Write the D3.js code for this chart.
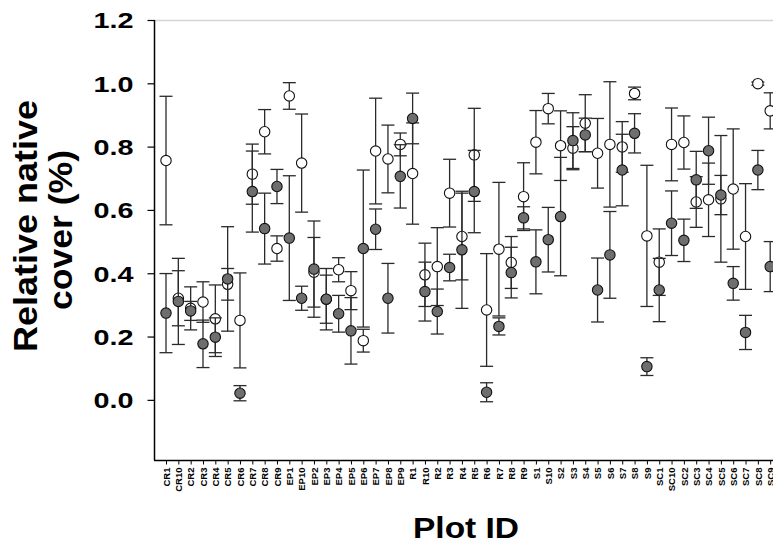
<!DOCTYPE html>
<html>
<head>
<meta charset="utf-8">
<script src="https://cdn.jsdelivr.net/npm/d3@7"></script>
<style>
  body { margin: 0; background: #fff; overflow: hidden; }
  text { font-family: "Liberation Sans", Arial, sans-serif; font-weight: bold; }
</style>
</head>
<body>
<svg id="chart" width="773" height="543"></svg>
<script>
// plot ids along the x axis
const plots = [
  "CR1","CR10","CR2","CR3","CR4","CR5","CR6","CR7","CR8","CR9",
  "EP1","EP10","EP2","EP3","EP4","EP5","EP6","EP7","EP8","EP9",
  "R1","R10","R2","R3","R4","R5","R6","R7","R8","R9",
  "S1","S10","S2","S3","S4","S5","S6","S7","S8","S9",
  "SC1","SC10","SC2","SC3","SC4","SC5","SC6","SC7","SC8","SC9"
];

// open circles: mean and error
const openMean = [
  0.756,0.321,0.289,0.309,0.256,0.365,0.251,0.713,0.847,0.478,
  0.960,0.748,0.403,0.318,0.411,0.345,0.187,0.786,0.761,0.807,
  0.715,0.395,0.421,0.653,0.516,0.774,0.284,0.476,0.434,0.642,
  0.814,0.920,0.803,0.795,0.874,0.779,0.807,0.799,0.968,0.518,
  0.435,0.807,0.813,0.625,0.632,0.635,0.666,0.516,0.999,0.913
];
const openErr = [
  0.203,0.087,0.068,0.064,0.107,0.050,0.150,0.095,0.070,0.040,
  0.042,0.155,0.110,0.097,0.038,0.060,0.036,0.167,0.107,0.036,
  0.160,0.100,0.123,0.107,0.137,0.147,0.178,0.211,0.082,0.107,
  0.100,0.048,0.110,0.068,0.090,0.110,0.198,0.080,0.020,0.223,
  0.105,0.115,0.084,0.080,0.116,0.200,0.190,0.167,0.005,0.057
];

// filled circles: mean and error
const filledMean = [
  0.274,0.311,0.281,0.177,0.198,0.382,0.021,0.658,0.541,0.674,
  0.511,0.321,0.413,0.318,0.272,0.218,0.478,0.539,0.321,0.706,
  0.889,0.342,0.279,0.418,0.474,0.658,0.024,0.232,0.402,0.575,
  0.436,0.506,0.579,0.819,0.837,0.347,0.458,0.726,0.842,0.105,
  0.347,0.558,0.504,0.695,0.787,0.647,0.368,0.213,0.726,0.421
];
const filledErr = [
  0.125,0.136,0.030,0.075,0.061,0.165,0.024,0.128,0.112,0.054,
  0.197,0.038,0.152,0.076,0.058,0.105,0.248,0.064,0.110,0.100,
  0.080,0.093,0.071,0.042,0.185,0.130,0.030,0.027,0.080,0.035,
  0.101,0.102,0.187,0.088,0.053,0.101,0.137,0.113,0.062,0.028,
  0.100,0.102,0.067,0.090,0.106,0.062,0.053,0.054,0.062,0.079
];

const yTicks = [0.0, 0.2, 0.4, 0.6, 0.8, 1.0, 1.2];

const svg = d3.select("#chart");

const x = d3.scalePoint().domain(plots).range([166, 770.2]);
const y = d3.scaleLinear().domain([-0.19, 1.2]).range([460, 20]);

// light frame line on top
svg.append("line")
  .attr("x1", 154).attr("x2", 773)
  .attr("y1", 20.5).attr("y2", 20.5)
  .style("stroke", "#d4d4d4")
  .style("stroke-width", 1.5);

// y axis
const yAxis = svg.append("g")
  .attr("transform", "translate(154.5,0)")
  .call(d3.axisLeft(y).tickValues(yTicks).tickSize(7).tickFormat(d3.format(".1f")));
yAxis.select(".domain").attr("d", "M0,20V460").style("stroke", "#000").style("stroke-width", 1.5);
yAxis.selectAll(".tick line").style("stroke", "#000").style("stroke-width", 1.2);
yAxis.selectAll(".tick text")
  .attr("x", -21)
  .attr("dy", "0.36em")
  .attr("textLength", 40)
  .attr("lengthAdjust", "spacingAndGlyphs")
  .style("font-size", "22px")
  .style("font-family", "'Liberation Sans', Arial, sans-serif")
  .style("font-weight", "bold")
  .style("fill", "#000");

// x axis
const xAxis = svg.append("g")
  .attr("transform", "translate(0,460.5)")
  .call(d3.axisBottom(x).tickSize(4).tickSizeOuter(0));
xAxis.select(".domain").attr("d", "M154,0H773").style("stroke", "#000").style("stroke-width", 1.5);
xAxis.selectAll(".tick line").style("stroke", "#000");
xAxis.selectAll(".tick text")
  .attr("transform", "rotate(-90)")
  .attr("x", -7)
  .attr("y", 0)
  .attr("dy", "0.35em")
  .style("text-anchor", "end")
  .style("font-size", "9.5px")
  .style("font-family", "'Liberation Sans', Arial, sans-serif")
  .style("font-weight", "bold")
  .style("fill", "#000");

// draw one series: error bars then circles
function drawSeries(means, errs, fill) {
  const rows = plots.map((p, i) => ({ plot: p, mean: means[i], err: errs[i] }));
  const g = svg.append("g");
  const cap = 6.5;

  g.selectAll("line.bar")
    .data(rows)
    .enter()
    .append("line")
    .attr("class", "bar")
    .attr("x1", (d) => x(d.plot))
    .attr("x2", (d) => x(d.plot))
    .attr("y1", (d) => y(d.mean + d.err))
    .attr("y2", (d) => y(d.mean - d.err));

  g.selectAll("line.capTop")
    .data(rows)
    .enter()
    .append("line")
    .attr("class", "capTop")
    .attr("x1", (d) => x(d.plot) - cap)
    .attr("x2", (d) => x(d.plot) + cap)
    .attr("y1", (d) => y(d.mean + d.err))
    .attr("y2", (d) => y(d.mean + d.err));

  g.selectAll("line.capBot")
    .data(rows)
    .enter()
    .append("line")
    .attr("class", "capBot")
    .attr("x1", (d) => x(d.plot) - cap)
    .attr("x2", (d) => x(d.plot) + cap)
    .attr("y1", (d) => y(d.mean - d.err))
    .attr("y2", (d) => y(d.mean - d.err));

  g.selectAll("line")
    .style("stroke", "#2a2a2a")
    .style("stroke-width", 1.3);

  g.selectAll("circle")
    .data(rows)
    .enter()
    .append("circle")
    .attr("cx", (d) => x(d.plot))
    .attr("cy", (d) => y(d.mean))
    .attr("r", 5.2)
    .style("fill", fill)
    .style("stroke", "#111")
    .style("stroke-width", 1.1);
}

drawSeries(openMean, openErr, "#fff");
drawSeries(filledMean, filledErr, "#6e6e6e");

// axis titles
svg.append("text")
  .attr("transform", "translate(37,226) rotate(-90)")
  .attr("text-anchor", "middle")
  .attr("textLength", 252)
  .attr("lengthAdjust", "spacingAndGlyphs")
  .style("font-size", "33px")
  .text("Relative native");

svg.append("text")
  .attr("transform", "translate(72,230) rotate(-90)")
  .attr("text-anchor", "middle")
  .attr("textLength", 160)
  .attr("lengthAdjust", "spacingAndGlyphs")
  .style("font-size", "33px")
  .text("cover (%)");

svg.append("text")
  .attr("x", 466)
  .attr("y", 538)
  .attr("text-anchor", "middle")
  .attr("textLength", 106)
  .attr("lengthAdjust", "spacingAndGlyphs")
  .style("font-size", "30px")
  .text("Plot ID");
</script>
</body>
</html>
